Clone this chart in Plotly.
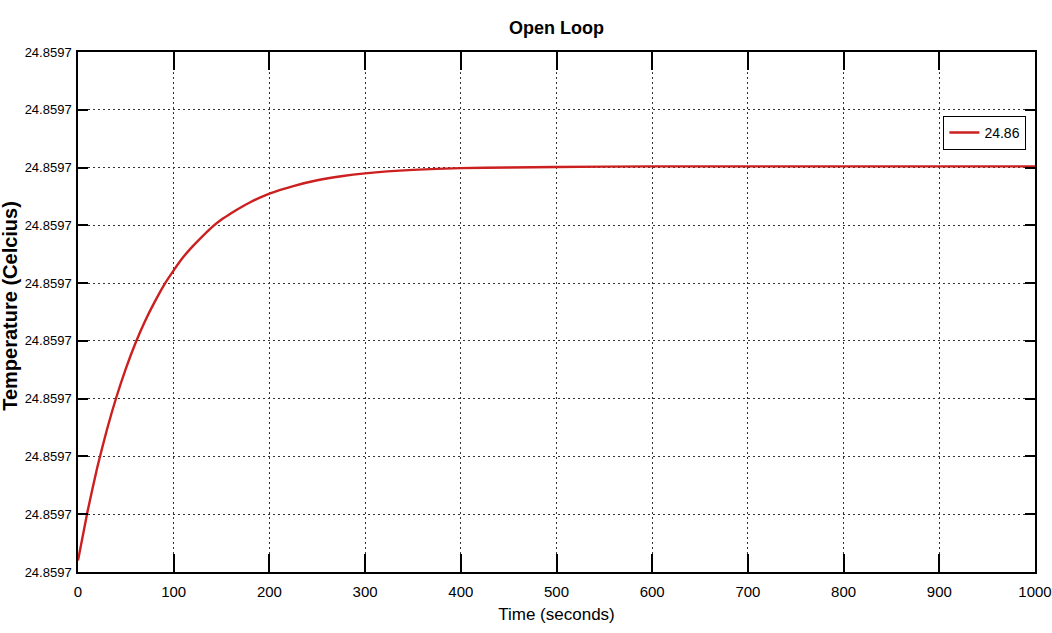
import plotly.graph_objects as go

# Open-loop step response of the temperature model
time_s = [0, 10, 20, 30, 40, 50, 60, 70, 80, 90, 100, 110, 120, 130, 140,
          150, 160, 170, 180, 190, 200, 225, 250, 275, 300, 350, 400, 450,
          500, 600, 700, 800, 900, 1000]
temperature_c = [24.8596570, 24.8596655, 24.8596730, 24.8596795, 24.8596852,
                 24.8596902, 24.8596946, 24.8596984, 24.8597017, 24.8597047,
                 24.8597072, 24.8597095, 24.8597114, 24.8597131, 24.8597147,
                 24.8597160, 24.8597171, 24.8597181, 24.8597190, 24.8597198,
                 24.8597205, 24.8597218, 24.8597228, 24.8597235, 24.8597240,
                 24.8597246, 24.8597249, 24.8597250, 24.8597251, 24.8597252,
                 24.8597252, 24.8597252, 24.8597252, 24.8597252]

x_ticks = [0, 100, 200, 300, 400, 500, 600, 700, 800, 900, 1000]
y_ticks = [24.859655, 24.859665, 24.859675, 24.859685, 24.859695,
           24.859705, 24.859715, 24.859725, 24.859735, 24.859745]
y_tick_labels = ["24.8597"] * len(y_ticks)

SANS = "Liberation Sans, Arial, sans-serif"

fig = go.Figure()
fig.add_trace(go.Scatter(
    x=time_s, y=temperature_c, mode="lines", name="24.86",
    line=dict(color="#cc1f1f", width=2.4, shape="spline", smoothing=0.5),
))

axis_common = dict(
    showline=True, linecolor="black", linewidth=1.5, mirror="ticks",
    ticks="inside", tickcolor="black", tickwidth=1.5,
    showgrid=True, gridcolor="#333333", gridwidth=1, griddash="1.5px,3.5px",
    zeroline=False, automargin=False, ticklabeloverflow="allow",
)

fig.update_xaxes(
    **axis_common, range=[0, 1000], tickvals=x_ticks, ticklen=18,
    ticklabelstandoff=5,
    tickfont=dict(family=SANS, size=15, color="black"),
    title=dict(text="Time (seconds)", standoff=9,
               font=dict(family=SANS, size=17, color="black")),
)
fig.update_yaxes(
    **axis_common, range=[y_ticks[0], y_ticks[-1]], tickvals=y_ticks,
    ticktext=y_tick_labels, ticklen=10, ticklabelstandoff=2,
    tickfont=dict(family=SANS, size=13, color="black"),
)

# Vertical y-axis label placed beside the tick labels
fig.add_annotation(
    text="Temperature (Celcius)", textangle=-90,
    xref="paper", yref="paper", x=-0.071, y=0.512,
    xanchor="center", yanchor="middle", showarrow=False,
    font=dict(family=SANS, size=20, color="black", weight="bold"),
)

fig.update_layout(
    width=1052, height=633,
    margin=dict(l=78, r=17, t=52, b=61),
    paper_bgcolor="white", plot_bgcolor="white",
    title=dict(text="Open Loop", x=0.529, xanchor="center", y=0.957, yanchor="middle",
               font=dict(family=SANS, size=18, color="black", weight="bold")),
    showlegend=True,
    legend=dict(x=0.991, y=0.877, xanchor="right", yanchor="top",
                bgcolor="white", bordercolor="black", borderwidth=1,
                font=dict(family=SANS, size=14, color="black"),
                itemwidth=30),
)

fig.write_html("out.html")
